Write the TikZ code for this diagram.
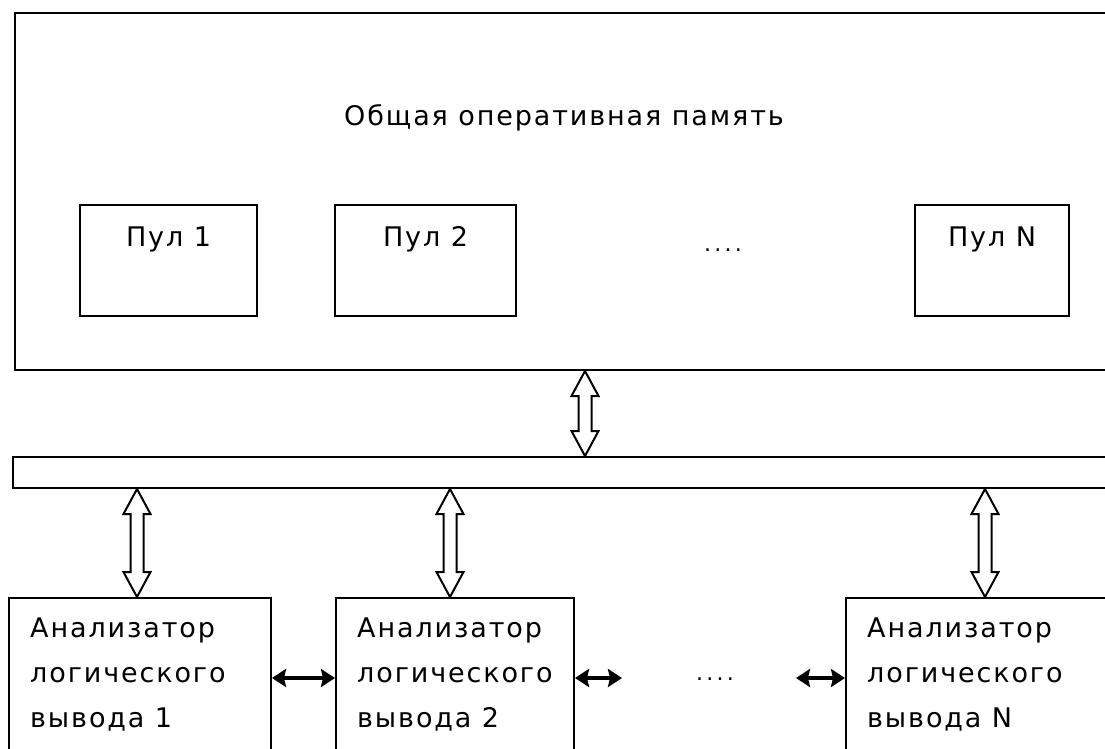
\documentclass[tikz,border=0pt]{standalone}
\usepackage{fontspec}
\setmainfont{DejaVu Sans}[LetterSpace=7]
\usetikzlibrary{arrows.meta,calc}

\tikzset{
  box/.style={draw, line width=2pt, inner sep=0pt, anchor=north west},
  lbl/.style={inner sep=0pt, font=\fontsize{27}{45}\selectfont},
  dotrow/.style={inner sep=0pt, font=\fontsize{22}{24}\selectfont\addfontfeature{LetterSpace=15}},
  hollow/.style={draw, line width=2pt, fill=white, line join=miter},
  link/.style={line width=3.5pt,
    {Stealth[length=14pt,width=18pt,inset=2pt]}-{Stealth[length=14pt,width=18pt,inset=2pt]}},
}

% vertical two-headed hollow arrow at x=#1 between anchors #2 (top) and #3 (bottom)
\newcommand\hollowarrow[3]{%
  \path[hollow] let \p1=(#1,0 |- #2), \p2=(#1,0 |- #3) in
    (\x1,\y1) -- ++(13.5pt,-25pt) -- ++(-7pt,0pt)
    -- (\x1+6.5pt,\y2+25pt) -- ++(7pt,0pt) -- (\x1,\y2)
    -- ++(-13.5pt,25pt) -- ++(7pt,0pt)
    -- (\x1-6.5pt,\y1-25pt) -- ++(-7pt,0pt) -- cycle;}

\begin{document}
\begin{tikzpicture}[x=1pt,y=-1pt]
  \useasboundingbox (0,0) rectangle (1105,749);
  \clip (0,0) rectangle (1105,749);

  % shared memory with its pools
  \node[box, minimum width=1130, minimum height=357] (mem) at (14,12) {};
  \node[lbl, anchor=base] (title) at (564,126) {Общая оперативная память};

  \node[box, minimum width=177, minimum height=111] (p1) at (79,204) {};
  \node[box, minimum width=181, minimum height=111] (p2) at (334,204) {};
  \node[box, minimum width=154, minimum height=111] (pN) at (914,204) {};
  \node[lbl, anchor=base] (p1t) at ($(p1.north)+(0,42)$) {Пул 1};
  \node[lbl, anchor=base] (p2t) at ($(p2.north)+(0,42)$) {Пул 2};
  \node[lbl, anchor=base] (pNt) at ($(pN.north)+(0,42)$) {Пул N};
  \node[dotrow, anchor=base] (pdots) at (723,251) {....};

  % bus
  \node[box, minimum width=1120, minimum height=31] (bus) at (12,456) {};

  % inference analyzers (base anchor sits on the last text line)
  \node[box, minimum width=262, minimum height=200] (an1) at (8,597) {};
  \node[box, minimum width=238, minimum height=200] (an2) at (335,597) {};
  \node[box, minimum width=300, minimum height=200] (anN) at (845,597) {};
  \node[lbl, anchor=base west, align=left] (an1t) at ($(an1.north west)+(22,130)$)
    {Анализатор\\логического\\вывода 1};
  \node[lbl, anchor=base west, align=left] (an2t) at ($(an2.north west)+(22,130)$)
    {Анализатор\\логического\\вывода 2};
  \node[lbl, anchor=base west, align=left] (anNt) at ($(anN.north west)+(22,130)$)
    {Анализатор\\логического\\вывода N};
  \node[dotrow, anchor=base] (adots) at (715,680) {....};

  % bus links
  \hollowarrow{585}{mem.south}{bus.north}
  \hollowarrow{137}{bus.south}{an1.north}
  \hollowarrow{450}{bus.south}{an2.north}
  \hollowarrow{985}{bus.south}{anN.north}

  % links between neighbouring analyzers
  \coordinate (row) at (0,678);
  \coordinate (c1) at (622,678);
  \coordinate (c2) at (796,678);
  \draw[link] (an1.east |- row) -- (an2.west |- row);
  \draw[link] (an2.east |- row) -- (c1);
  \draw[link] (c2) -- (anN.west |- row);
\end{tikzpicture}
\end{document}
